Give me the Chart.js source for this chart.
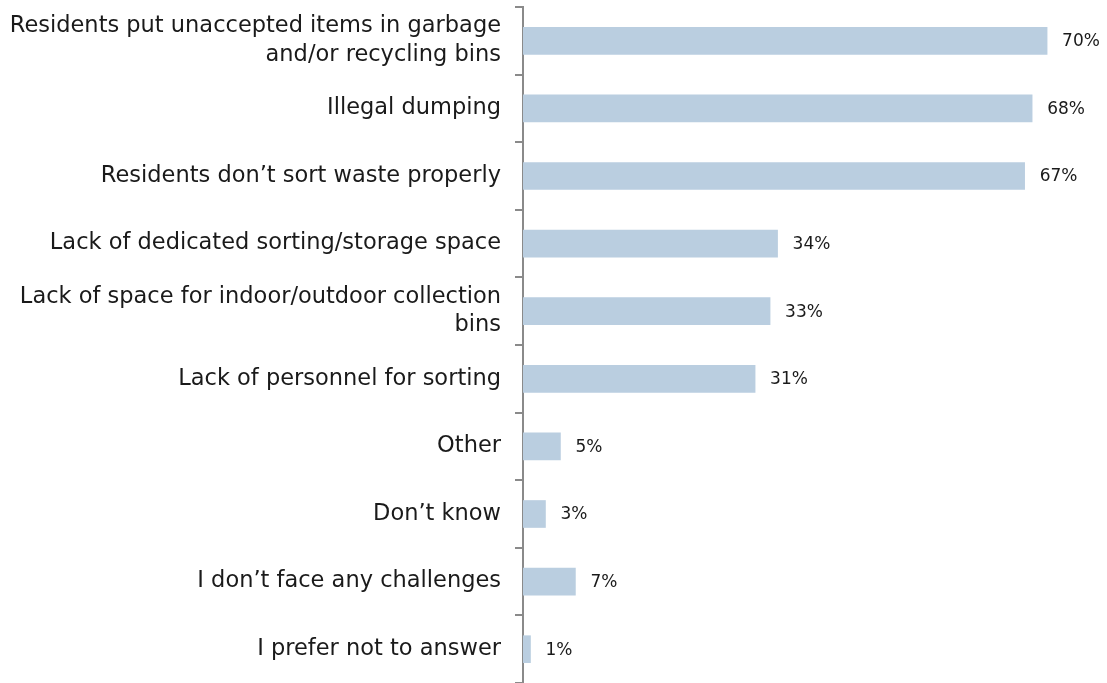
<!DOCTYPE html>
<html>
<head>
<meta charset="utf-8">
<script src="https://cdn.jsdelivr.net/npm/chart.js@4/dist/chart.umd.min.js"></script>
<style>
  html, body { margin: 0; padding: 0; background: #fff; }
  #wrap { width: 1107px; height: 683px; position: relative; }
</style>
</head>
<body>
<div id="wrap"><canvas id="chartChallenges"></canvas></div>
<script>
const categories = [
  ['Residents put unaccepted items in garbage', 'and/or recycling bins'],
  'Illegal dumping',
  'Residents don\u2019t sort waste properly',
  'Lack of dedicated sorting/storage space',
  ['Lack of space for indoor/outdoor collection', 'bins'],
  'Lack of personnel for sorting',
  'Other',
  'Don\u2019t know',
  'I don\u2019t face any challenges',
  'I prefer not to answer'
];
const values = [70, 68, 67, 34, 33, 31, 5, 3, 7, 1];

const FONT = '"DejaVu Sans", "Liberation Sans", sans-serif';

// percent labels after each bar
const valueLabels = {
  id: 'valueLabels',
  afterDatasetsDraw(chart) {
    const ctx = chart.ctx;
    const meta = chart.getDatasetMeta(0);
    ctx.save();
    ctx.font = '17px ' + FONT;
    ctx.fillStyle = '#1a1a1a';
    ctx.textBaseline = 'middle';
    ctx.textAlign = 'left';
    meta.data.forEach((bar, i) => {
      ctx.fillText(values[i] + '%', bar.x + 15, bar.y + 1);
    });
    ctx.restore();
  }
};

const ctx = document.getElementById('chartChallenges').getContext('2d');
new Chart(ctx, {
  type: 'bar',
  data: {
    labels: categories,
    datasets: [{
      data: values,
      backgroundColor: '#bacee0',
      borderWidth: 0,
      barThickness: 27
    }]
  },
  options: {
    indexAxis: 'y',
    responsive: true,
    maintainAspectRatio: false,
    animation: false,
    layout: { padding: { top: 7, right: 0, bottom: 0, left: 0 } },
    plugins: {
      legend: { display: false },
      tooltip: { enabled: false }
    },
    scales: {
      x: {
        display: false,
        min: 0,
        max: 78
      },
      y: {
        afterFit: (scale) => {
          scale.width = 523;
          scale.paddingTop = 0;
          scale.paddingBottom = 0;
        },
        border: { display: true, color: '#8a8a8a', width: 2 },
        grid: {
          drawOnChartArea: false,
          drawTicks: true,
          tickLength: 8,
          color: '#8a8a8a',
          lineWidth: 2,
          offset: true
        },
        ticks: {
          color: '#1a1a1a',
          padding: 14,
          font: { family: FONT, size: 22.5, lineHeight: 1.27 }
        }
      }
    }
  },
  plugins: [valueLabels]
});
</script>
</body>
</html>
